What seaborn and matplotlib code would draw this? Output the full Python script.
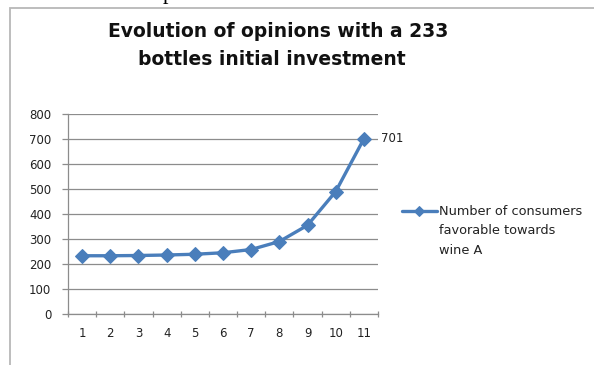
import matplotlib
matplotlib.use("Agg")
import matplotlib.pyplot as plt
from matplotlib.patches import Rectangle
import seaborn as sns
import pandas as pd

# Data
periods = [1, 2, 3, 4, 5, 6, 7, 8, 9, 10, 11]
consumers = [233, 233, 234, 236, 239, 245, 258, 290, 355, 490, 701]
y_ticks = [0, 100, 200, 300, 400, 500, 600, 700, 800]
series_lines = ["Number of consumers", "favorable towards", "wine A"]
title_lines = ["Evolution of opinions with a 233", "bottles initial investment"]

df = pd.DataFrame({"period": periods, "consumers": consumers})

sns.set_style("white")
plt.rcParams["font.family"] = ["DejaVu Sans"]

W, H = 594, 365
fig = plt.figure(figsize=(W / 100, H / 100), dpi=100)
fig.patch.set_facecolor("white")

# Chart frame (left and top edges visible)
fig.add_artist(Rectangle((9.5 / W, -0.2), 2.0, 1.2 - 7.5 / H,
                         transform=fig.transFigure, fill=False,
                         edgecolor="#b8b8b8", linewidth=1.3))
# foot of the page text running above the chart
fig.text(168 / W, 1.0 + 1 / H, "p", fontsize=16, family="Liberation Serif",
         ha="center", va="baseline", color="black")

ax = fig.add_axes([68 / W, (H - 314) / H, (378 - 68) / W, 200 / H])

color = "#4A7EBB"
sns.lineplot(data=df, x="period", y="consumers", ax=ax, color=color,
             linewidth=2.4, marker="D", markersize=7.5,
             markeredgecolor=color, label=series_lines[0])

ax.set_xlim(0.5, 11.5)
ax.set_ylim(0, 800)
ax.set_yticks(y_ticks)
ax.set_xticks(periods)
ax.set_xticks([p + 0.5 for p in [0] + periods], minor=True)
ax.set_xlabel("")
ax.set_ylabel("")

ax.yaxis.grid(True, color="#8c8c8c", linewidth=0.9)
ax.set_axisbelow(True)
for s in ["top", "right"]:
    ax.spines[s].set_visible(False)
for s in ["left", "bottom"]:
    ax.spines[s].set_color("#8c8c8c")
    ax.spines[s].set_linewidth(0.9)

tick_fs = 8.5
ax.tick_params(axis="y", which="major", left=True, length=4, width=0.9,
               color="#8c8c8c", labelsize=tick_fs, pad=8, labelcolor="#222222")
ax.tick_params(axis="x", which="major", bottom=False, labelsize=tick_fs, pad=6,
               labelcolor="#222222")
ax.tick_params(axis="x", which="minor", bottom=True, length=4, width=0.9,
               color="#8c8c8c", direction="inout")

# value label on the last point
ax.annotate(str(consumers[-1]), xy=(periods[-1], consumers[-1]),
            xytext=(12.3, 0), textcoords="offset points", ha="left",
            va="center", fontsize=tick_fs, color="#222222")

leg_fs = 9.3
leg = ax.legend(loc="center left", bbox_to_anchor=(402 / W, 1 - 212 / H),
                bbox_transform=fig.transFigure, frameon=False,
                fontsize=leg_fs, handlelength=2.7, handletextpad=0.15,
                borderaxespad=0, borderpad=0, labelcolor="#222222")
leg.legend_handles[0].set_markersize(5.5)
fig.canvas.draw()
ax.annotate("\n".join(series_lines[1:]), xy=(0, 0),
            xycoords=leg.get_texts()[0], xytext=(0, -4.0),
            textcoords="offset points", ha="left", va="top",
            fontsize=leg_fs, color="#222222", linespacing=1.65)

# title, two centred lines
fig.text(278 / W, 1 - 37 / H, title_lines[0], ha="center", va="baseline",
         fontsize=13.5, fontweight="bold", color="#111111")
fig.text(272 / W, 1 - 65 / H, title_lines[1], ha="center", va="baseline",
         fontsize=13.5, fontweight="bold", color="#111111")

fig.savefig("out.png", dpi=100)
